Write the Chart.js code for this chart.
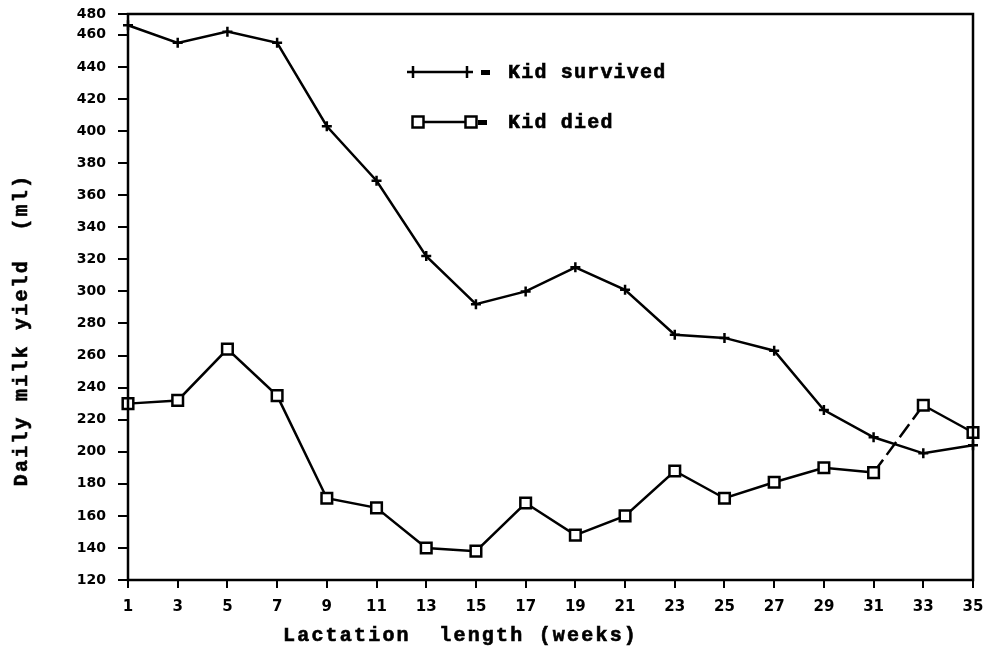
<!DOCTYPE html>
<html>
<head>
<meta charset="utf-8">
<script src="https://cdn.jsdelivr.net/npm/chart.js@4.4.1/dist/chart.umd.min.js"></script>
<style>
  html, body { margin: 0; padding: 0; background: #fff; }
  #wrap { width: 986px; height: 653px; position: relative; }
</style>
</head>
<body>
<div id="wrap"><canvas id="c" width="986" height="653"></canvas></div>
<script>
// ---- data ----
const weeks = ['1','3','5','7','9','11','13','15','17','19','21','23','25','27','29','31','33','35'];
const kidSurvived = [466, 455, 462, 455, 403, 369, 322, 292, 300, 315, 301, 273, 271, 263, 226, 209, 199, 204];
const kidDied     = [230, 232, 264, 235, 171, 165, 140, 138, 168, 148, 160, 188, 171, 181, 190, 187, 229, 212];
const yTickValues = [120, 140, 160, 180, 200, 220, 240, 260, 280, 300, 320, 340, 360, 380, 400, 420, 440, 460, 473];
const yTickLabels = ['120','140','160','180','200','220','240','260','280','300','320','340','360','380','400','420','440','460','480'];
const xTitle = 'Lactation  length (weeks)';
const yTitle = 'Daily milk yield  (ml)';
const legendSurvived = 'Kid survived';
const legendDied = 'Kid died';

const INK = '#000';
const monoFont = 'bold 20px "Liberation Mono", "DejaVu Sans Mono", monospace';

const decorPlugin = {
  id: 'decor',
  afterDraw(chart) {
    const ctx = chart.ctx;
    const a = chart.chartArea;
    ctx.save();
    // frame
    ctx.strokeStyle = INK;
    ctx.lineWidth = 2.5;
    ctx.strokeRect(a.left, a.top, a.right - a.left, a.bottom - a.top);

    // axis titles
    ctx.fillStyle = INK;
    ctx.strokeStyle = INK;
    ctx.font = monoFont;
    ctx.letterSpacing = '2.2px';
    ctx.textBaseline = 'middle';
    ctx.textAlign = 'left';
    ctx.lineWidth = 0.6;
    ctx.fillText(xTitle, 283, 636);
    ctx.strokeText(xTitle, 283, 636);

    ctx.save();
    ctx.translate(22, 330);
    ctx.rotate(-Math.PI / 2);
    ctx.textAlign = 'center';
    ctx.fillText(yTitle, 0, 0);
    ctx.strokeText(yTitle, 0, 0);
    ctx.restore();

    // legend
    ctx.letterSpacing = '1.2px';
    ctx.fillText(legendSurvived, 508, 73);
    ctx.strokeText(legendSurvived, 508, 73);
    ctx.fillText(legendDied, 508, 123);
    ctx.strokeText(legendDied, 508, 123);

    ctx.lineWidth = 2.5;
    // row 1 : crosses
    const y1 = 72;
    ctx.beginPath();
    ctx.moveTo(413, y1); ctx.lineTo(467, y1);
    [413, 467].forEach(x => {
      ctx.moveTo(x - 6, y1); ctx.lineTo(x + 6, y1);
      ctx.moveTo(x, y1 - 6); ctx.lineTo(x, y1 + 6);
    });
    ctx.stroke();
    ctx.fillRect(481, y1 - 2, 9, 5);
    // row 2 : squares
    const y2 = 122;
    ctx.beginPath();
    ctx.moveTo(424, y2); ctx.lineTo(466, y2);
    ctx.stroke();
    [418, 471].forEach(x => {
      ctx.fillStyle = '#fff';
      ctx.fillRect(x - 5.5, y2 - 5.5, 11, 11);
      ctx.strokeRect(x - 5.5, y2 - 5.5, 11, 11);
    });
    ctx.fillStyle = INK;
    ctx.fillRect(478, y2 - 2, 9, 5);
    ctx.restore();
  }
};

new Chart(document.getElementById('c'), {
  type: 'line',
  data: {
    labels: weeks,
    datasets: [
      {
        label: legendSurvived,
        data: kidSurvived,
        borderColor: INK,
        borderWidth: 2.5,
        pointStyle: 'cross',
        pointRadius: 5,
        pointBorderWidth: 2.5,
        pointBorderColor: INK,
        tension: 0,
        fill: false
      },
      {
        label: legendDied,
        data: kidDied,
        borderColor: INK,
        borderWidth: 2.5,
        pointStyle: 'rect',
        pointRadius: 7.5,
        pointBorderWidth: 2.5,
        pointBackgroundColor: '#fff',
        pointBorderColor: INK,
        tension: 0,
        fill: false,
        segment: {
          borderDash: ctx => ctx.p0DataIndex === 15 ? [16, 6] : undefined
        }
      }
    ]
  },
  options: {
    responsive: false,
    animation: false,
    devicePixelRatio: 1,
    layout: { padding: { top: 14, right: 13, left: 0, bottom: 0 } },
    plugins: {
      legend: { display: false },
      tooltip: { enabled: false },
      title: { display: false }
    },
    scales: {
      x: {
        type: 'category',
        offset: false,
        border: { display: false },
        grid: { display: true, drawOnChartArea: false, drawTicks: true, tickLength: 8, color: INK, lineWidth: 2 },
        ticks: {
          color: INK,
          font: { family: '"DejaVu Sans", sans-serif', weight: 'bold', size: 15 },
          padding: 10,
          maxRotation: 0,
          autoSkip: false
        },
        afterFit(scale) { scale.height = 73; scale.paddingRight = 0; scale.paddingLeft = 0; }
      },
      y: {
        min: 120,
        max: 473,
        border: { display: false },
        grid: { display: true, drawOnChartArea: false, drawTicks: true, tickLength: 10, color: INK, lineWidth: 2 },
        afterBuildTicks(scale) { scale.ticks = yTickValues.map(v => ({ value: v })); },
        ticks: {
          color: INK,
          font: { family: '"DejaVu Sans", sans-serif', weight: 'bold', size: 14 },
          padding: 12,
          autoSkip: false,
          callback: (v, i) => yTickLabels[i]
        },
        afterFit(scale) { scale.width = 128; scale.paddingTop = 0; scale.paddingBottom = 0; }
      }
    }
  },
  plugins: [decorPlugin]
});
</script>
</body>
</html>
